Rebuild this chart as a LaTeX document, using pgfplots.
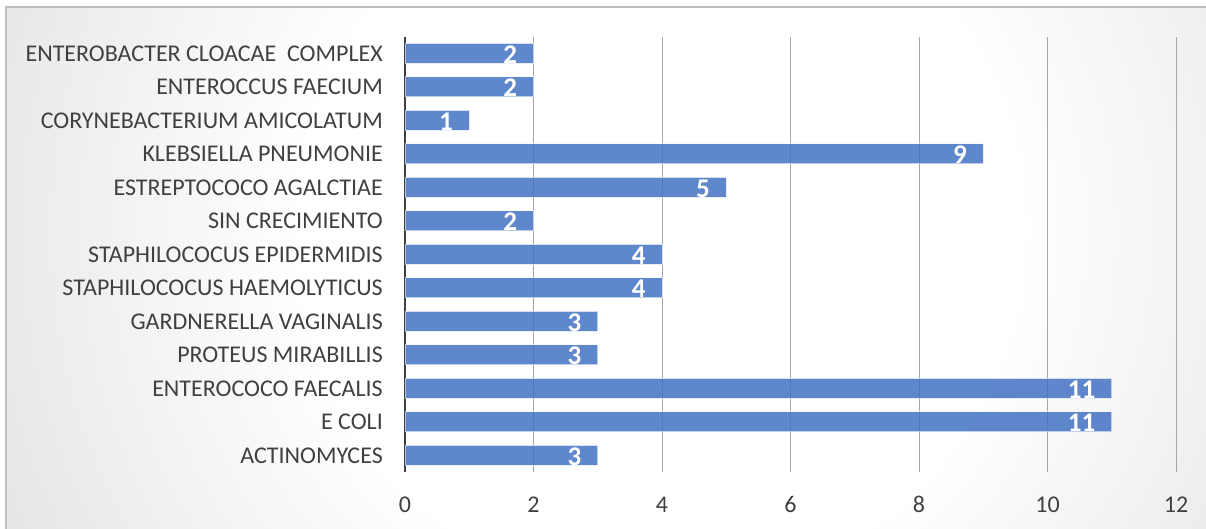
\documentclass[border=0pt]{standalone}
\usepackage{pgfplots}
\pgfplotsset{compat=1.18}
\usepackage{fontspec}
\setmainfont{Carlito}
\definecolor{barblue}{HTML}{4472C4}
\definecolor{labelgrey}{HTML}{404040}
\definecolor{gridgrey}{HTML}{A6A6A6}
\definecolor{bggrey}{HTML}{C4C4C4}
\definecolor{framegrey}{HTML}{BFBFBF}
\pgfdeclareradialshading{chartbg}{\pgfpointorigin}{color(0bp)=(white); color(9bp)=(white); color(30bp)=(bggrey); color(50bp)=(bggrey)}

\begin{document}
\begin{tikzpicture}[x=1bp,y=1bp]
\path[use as bounding box] (0,0) rectangle (1206,529);
% chart area background with radial gradient
\begin{scope}
  \clip (6,-2) rectangle (1210,522);
  \shade[shading=chartbg] (660,299) circle (1000);
\end{scope}
\draw[framegrey, line width=1.2bp] (6,-2) -- (6,522) -- (1210,522);
\begin{axis}[
  at={(405bp,56.75bp)}, anchor=south west,
  scale only axis, width=771bp, height=435.5bp,
  xmin=0, xmax=12, ymin=-0.5, ymax=12.5,
  xtick={0,2,...,12}, ytick={0,...,12},
  yticklabels={ACTINOMYCES, E COLI, ENTEROCOCO FAECALIS, PROTEUS MIRABILLIS, GARDNERELLA VAGINALIS, STAPHILOCOCUS HAEMOLYTICUS, STAPHILOCOCUS EPIDERMIDIS, SIN CRECIMIENTO, ESTREPTOCOCO AGALCTIAE, KLEBSIELLA PNEUMONIE, CORYNEBACTERIUM AMICOLATUM, ENTEROCCUS FAECIUM, ENTEROBACTER CLOACAE\ \ COMPLEX},
  axis lines*=left,
  x axis line style={draw=none},
  y axis line style={draw=labelgrey, line width=2.5bp},
  major tick length=0pt,
  xmajorgrids, grid style={gridgrey, line width=1bp},
  tick label style={font=\fontsize{24bp}{28bp}\selectfont, text=labelgrey},
  /pgf/number format/assume math mode=true,
  xticklabel style={anchor=base, yshift=-40bp},
  yticklabel style={anchor=east, inner sep=0pt, xshift=-22bp},
  xbar, bar width=20bp, bar shift=0pt,
  nodes near coords,
  every node near coord/.append style={anchor=base east, xshift=-16bp, yshift=-10bp,
    text=white, font=\bfseries\fontsize{27bp}{30bp}\selectfont,
    fill opacity=1, text opacity=1, inner sep=0pt},
]
\addplot[fill=barblue, fill opacity=0.85, draw=white, draw opacity=0.6, line width=1bp]
  coordinates {(3,0) (11,1) (11,2) (3,3) (3,4) (4,5) (4,6) (2,7) (5,8) (9,9) (1,10) (2,11) (2,12)};
\end{axis}
\end{tikzpicture}
\end{document}
